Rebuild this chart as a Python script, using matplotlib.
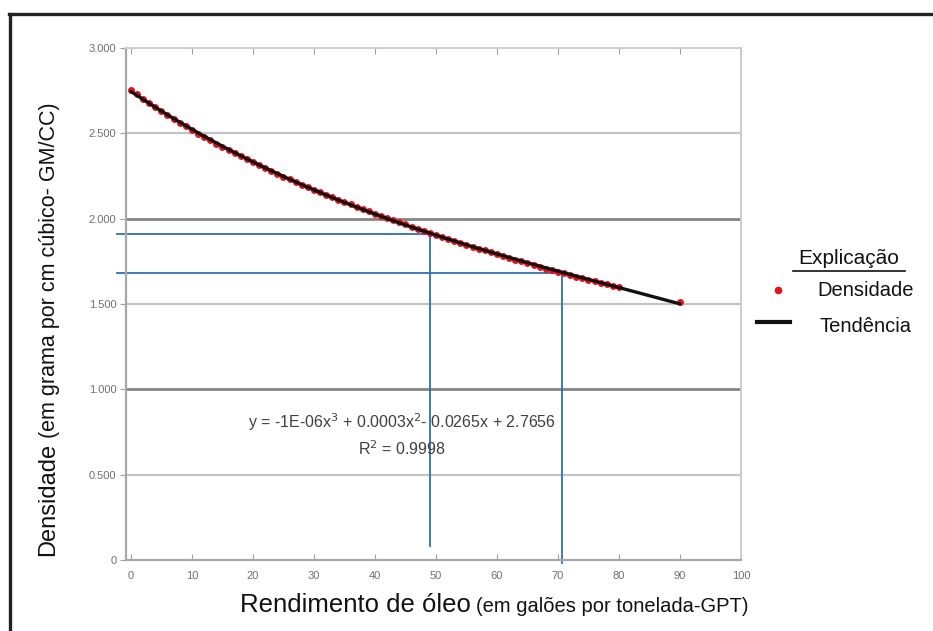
import numpy as np
import matplotlib
matplotlib.use("Agg")
import matplotlib.pyplot as plt
from matplotlib.lines import Line2D

plt.rcParams['font.family'] = ['Liberation Sans', 'DejaVu Sans']

# rendimento de óleo (GPT) e densidade (GM/CC)
rendimento = list(range(0, 81)) + [90]
densidade = [2.755, 2.729, 2.703, 2.678, 2.654, 2.631, 2.608, 2.585, 2.563, 2.541,
             2.520, 2.499, 2.479, 2.459, 2.440, 2.421, 2.402, 2.383, 2.365, 2.347,
             2.330, 2.313, 2.296, 2.279, 2.263, 2.247, 2.231, 2.215, 2.200, 2.185,
             2.170, 2.155, 2.141, 2.126, 2.112, 2.098, 2.084, 2.070, 2.057, 2.043,
             2.030, 2.017, 2.004, 1.991, 1.979, 1.966, 1.954, 1.941, 1.929, 1.917,
             1.905, 1.893, 1.882, 1.870, 1.859, 1.847, 1.836, 1.825, 1.814, 1.803,
             1.792, 1.781, 1.771, 1.760, 1.750, 1.739, 1.729, 1.718, 1.708, 1.698,
             1.688, 1.679, 1.670, 1.661, 1.652, 1.643, 1.634, 1.625, 1.616, 1.607,
             1.598, 1.510]

# leituras marcadas em azul (x, y)
leituras_x = [49.1, 70.7]
leituras_y = [1.91, 1.68]
fim_vertical = [0.08, -0.02]

x_ticks = list(range(0, 101, 10))
y_ticks = [0, 0.5, 1.0, 1.5, 2.0, 2.5, 3.0]
y_ticklabels = ['0', '0.500', '1.000', '1.500', '2.000', '2.500', '3.000']

W, H = 933, 631
fig = plt.figure(figsize=(W / 100, H / 100), dpi=100)
ax = fig.add_axes([126 / W, 1 - 560 / H, (741 - 126) / W, (560 - 48) / H])


def fx(px):
    return px / W


def fy(py):
    return 1 - py / H


# grade
for v in [0.5, 1.5, 2.5]:
    ax.axhline(v, color='#c4c4c4', lw=1.6, zorder=1)
for v in [1.0, 2.0]:
    ax.axhline(v, color='#858585', lw=2.0, zorder=1)

# linhas de leitura
for xv, yv, yb in zip(leituras_x, leituras_y, fim_vertical):
    ax.plot([-2.3, xv], [yv, yv], color='#2f6db5', lw=1.3, clip_on=False, zorder=2)
    ax.plot([xv, xv], [yv, yb], color='#2f6db5', lw=1.3, clip_on=False, zorder=2)

# pontos e tendência
ax.plot(rendimento, densidade, 'o', color='#e8101a', ms=5, mec='none', zorder=3)
coef = np.polyfit(rendimento, densidade, 3)
xt = np.linspace(0, 90, 200)
ax.plot(xt, np.polyval(coef, xt), color='#111111', lw=2.4, zorder=4,
        solid_capstyle='round')

ax.set_xlim(-0.8, 100)
ax.set_ylim(0, 3)
ax.set_xticks(x_ticks)
ax.set_yticks(y_ticks)
ax.set_yticklabels(y_ticklabels)
ax.tick_params(axis='x', direction='in', length=4, color='#a0a0a0',
               labelsize=8, labelcolor='#707070', top=True, pad=8)
ax.tick_params(axis='y', direction='out', length=4, color='#a0a0a0',
               labelsize=8, labelcolor='#707070', pad=3)
for s in ['left', 'bottom']:
    ax.spines[s].set_color('#a8a8a8')
    ax.spines[s].set_linewidth(1.6)
for s in ['top', 'right']:
    ax.spines[s].set_color('#cccccc')
    ax.spines[s].set_linewidth(1.4)

# equação
ax.text(44.5, 0.805, r'y = -1E-06x$^3$ + 0.0003x$^2$- 0.0265x + 2.7656',
        ha='center', va='center', fontsize=11.5, color='#404040')
ax.text(44.5, 0.655, r'R$^2$ = 0.9998', ha='center', va='center',
        fontsize=11.5, color='#404040')

# rótulos dos eixos (duas partes com tamanhos diferentes)
fig.canvas.draw()
r = fig.canvas.get_renderer()
t1 = fig.text(fx(240), fy(605), 'Rendimento de óleo', fontsize=18.5,
              ha='left', va='center', color='#111111')
e1 = t1.get_window_extent(r)
fig.text((e1.x1 + 5) / W, fy(606), '(em galões por tonelada-GPT)', fontsize=14.5,
         ha='left', va='center', color='#111111')

t2 = fig.text(fx(48), fy(556), 'Densidade', fontsize=17, rotation=90,
              rotation_mode='anchor', ha='left', va='center', color='#111111')
e2 = t2.get_window_extent(r)
fig.text(fx(49), (e2.y1 + 5) / H, '(em grama por cm cúbico- GM/CC)', fontsize=15.5,
         rotation=90, rotation_mode='anchor', ha='left', va='center', color='#111111')

# legenda
fig.text(fx(849), fy(259), 'Explicação', fontsize=15, ha='center', va='center',
         color='#111111')
fig.add_artist(Line2D([fx(793), fx(905)], [fy(271), fy(271)], color='#111111', lw=1.2))
fig.add_artist(Line2D([fx(778)], [fy(290)], marker='o', color='#e8101a', ms=5.5, mec='none'))
fig.text(fx(866), fy(290), 'Densidade', fontsize=14.5, ha='center', va='center',
         color='#111111')
fig.add_artist(Line2D([fx(757), fx(790)], [fy(322), fy(322)], color='#111111', lw=3))
fig.text(fx(866), fy(326), 'Tendência', fontsize=14.5, ha='center', va='center',
         color='#111111')

# moldura externa
fig.add_artist(Line2D([fx(9), fx(933)], [fy(14), fy(14)], color='#222222', lw=2.4))
fig.add_artist(Line2D([fx(10), fx(10)], [fy(14), fy(631)], color='#222222', lw=2.4))

fig.savefig('out.png', dpi=100)
